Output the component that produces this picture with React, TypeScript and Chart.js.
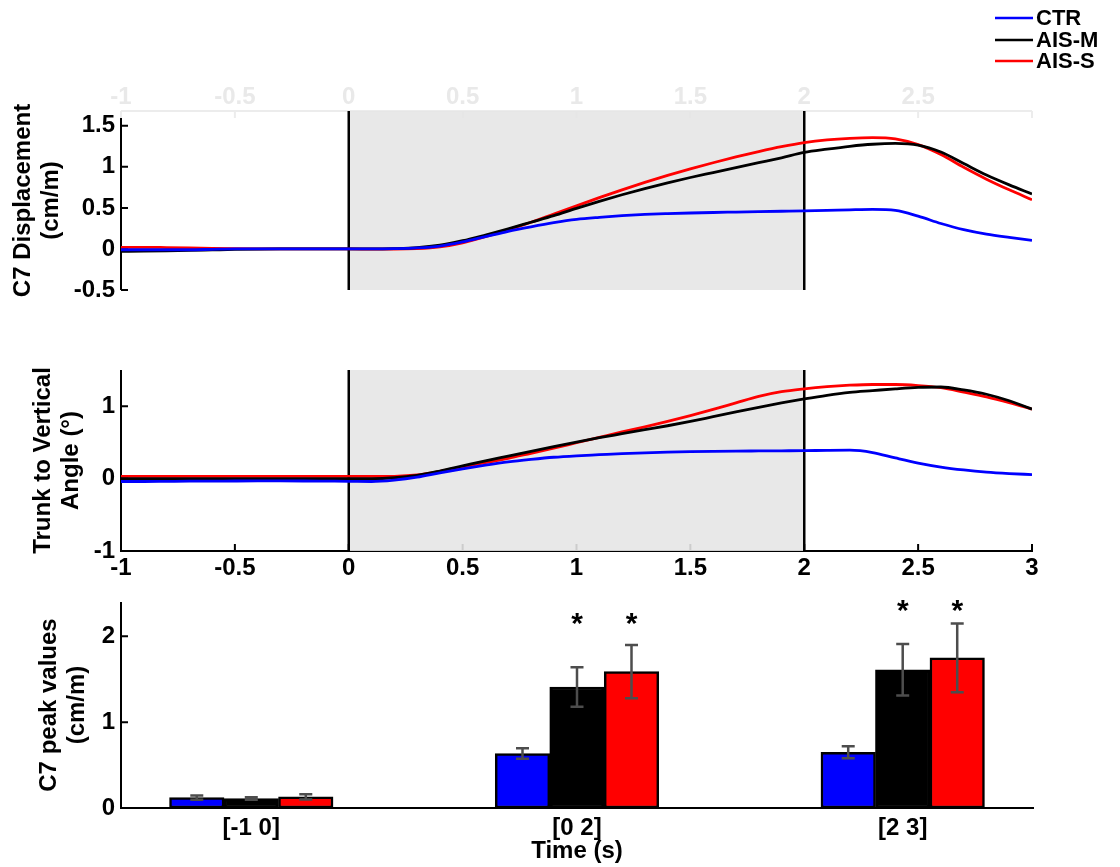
import React, { useEffect, useRef } from 'react';
import { Chart, registerables } from 'chart.js';

Chart.register(...registerables);

const FONT_FAMILY = "'Liberation Sans', Arial, Helvetica, sans-serif";
const font = (size: number, lineHeight = 1.2) => ({ family: FONT_FAMILY, size, weight: 'bold' as const, lineHeight });

// ---------- data ----------
const seriesNames = ['CTR', 'AIS-M', 'AIS-S'];
const seriesColors = ['#0000ff', '#000000', '#ff0000'];

const timeS = [-1.0, -0.9, -0.8, -0.7, -0.6, -0.5, -0.4, -0.3, -0.2, -0.1, 0.0, 0.1, 0.2, 0.3, 0.4, 0.5, 0.6, 0.7, 0.8, 0.9, 1.0,
  1.1, 1.2, 1.3, 1.4, 1.5, 1.6, 1.7, 1.8, 1.9, 2.0, 2.1, 2.2, 2.3, 2.4, 2.5, 2.6, 2.7, 2.8, 2.9, 3.0];

const dispCTR = [-0.01, -0.01, -0.01, -0.01, -0.005, 0, 0, 0, 0, 0, 0, 0, 0.003, 0.012, 0.035, 0.085, 0.15, 0.215, 0.27, 0.32, 0.36,
  0.385, 0.405, 0.42, 0.43, 0.438, 0.444, 0.449, 0.454, 0.459, 0.464, 0.47, 0.477, 0.482, 0.47, 0.40, 0.31, 0.235, 0.18, 0.14, 0.105];
const dispAISM = [-0.03, -0.027, -0.023, -0.018, -0.012, -0.006, -0.002, 0, 0, 0, 0, 0, 0.004, 0.015, 0.045, 0.10, 0.17, 0.245, 0.325, 0.405, 0.495,
  0.58, 0.66, 0.735, 0.805, 0.87, 0.93, 0.99, 1.05, 1.11, 1.175, 1.215, 1.25, 1.275, 1.285, 1.265, 1.18, 1.04, 0.90, 0.78, 0.67];
const dispAISS = [0.02, 0.02, 0.017, 0.013, 0.008, 0.004, 0.001, 0, 0, 0, 0, -0.002, -0.003, 0.003, 0.025, 0.075, 0.15, 0.235, 0.325, 0.425, 0.525,
  0.625, 0.72, 0.81, 0.895, 0.975, 1.05, 1.12, 1.185, 1.245, 1.295, 1.328, 1.347, 1.355, 1.34, 1.27, 1.15, 0.995, 0.85, 0.72, 0.60];

const angCTR = [-0.04, -0.04, -0.038, -0.036, -0.035, -0.033, -0.032, -0.032, -0.033, -0.035, -0.037, -0.04, -0.02, 0.02, 0.08, 0.135, 0.185, 0.23, 0.265, 0.295, 0.315,
  0.33, 0.345, 0.355, 0.365, 0.372, 0.377, 0.38, 0.382, 0.384, 0.386, 0.39, 0.392, 0.36, 0.285, 0.215, 0.16, 0.12, 0.09, 0.07, 0.055];
const angAISM = [0.0, 0.0, 0.0, 0.0, 0.0, 0.0, 0.0, 0.0, 0.0, 0.0, 0.0, 0.0, 0.012, 0.045, 0.105, 0.175, 0.245, 0.31, 0.375, 0.44, 0.505,
  0.565, 0.62, 0.675, 0.73, 0.79, 0.855, 0.92, 0.985, 1.045, 1.10, 1.15, 1.19, 1.215, 1.24, 1.26, 1.265, 1.225, 1.165, 1.075, 0.96];
const angAISS = [0.03, 0.03, 0.03, 0.03, 0.03, 0.03, 0.03, 0.03, 0.03, 0.03, 0.03, 0.03, 0.032, 0.05, 0.10, 0.16, 0.22, 0.28, 0.35, 0.42, 0.495,
  0.57, 0.645, 0.715, 0.79, 0.87, 0.955, 1.045, 1.135, 1.20, 1.24, 1.27, 1.29, 1.30, 1.30, 1.285, 1.255, 1.195, 1.13, 1.05, 0.96];

const taskWindow = [0, 2];
const timeTicks = [-1, -0.5, 0, 0.5, 1, 1.5, 2, 2.5, 3];
const dispTicks = [-0.5, 0, 0.5, 1, 1.5];
const angTicks = [-1, 0, 1];
const peakTicks = [0, 1, 2];

const windowLabels = ['[-1 0]', '[0 2]', '[2 3]'];
const windowPos = [1, 2, 3];
const peakCTR = [0.12, 0.635, 0.65];
const peakAISM = [0.11, 1.41, 1.61];
const peakAISS = [0.13, 1.59, 1.75];
const errCTR = [0.025, 0.06, 0.07];
const errAISM = [0.015, 0.23, 0.30];
const errAISS = [0.03, 0.31, 0.40];
const sigCTR = [false, false, false];
const sigAISM = [false, true, true];
const sigAISS = [false, true, true];
const starLevel = [0, 2.22, 2.37];

// ---------- plugins ----------
const decorPlugin = {
  id: 'figDecor',
  beforeDatasetsDraw(chart: any, _args: any, opts: any) {
    const ctx = chart.ctx;
    const a = chart.chartArea;
    const xs = chart.scales.x;
    const ys = chart.scales.y;
    const L = 7;
    ctx.save();
    for (const ax of opts.axes || []) {
      ctx.strokeStyle = ax.color;
      ctx.lineWidth = 2;
      ctx.beginPath();
      if (ax.side === 'left') { ctx.moveTo(a.left, a.top); ctx.lineTo(a.left, a.bottom); }
      if (ax.side === 'bottom') { ctx.moveTo(a.left - 1, a.bottom); ctx.lineTo(a.right + 1, a.bottom); }
      if (ax.side === 'top') { ctx.moveTo(a.left, a.top); ctx.lineTo(a.right, a.top); }
      ctx.stroke();
      ctx.beginPath();
      for (const v of ax.ticks) {
        if (ax.side === 'left') { const y = ys.getPixelForValue(v); ctx.moveTo(a.left, y); ctx.lineTo(a.left + L, y); }
        if (ax.side === 'bottom') { const x = xs.getPixelForValue(v); ctx.moveTo(x, a.bottom); ctx.lineTo(x, a.bottom - L); }
        if (ax.side === 'top') { const x = xs.getPixelForValue(v); ctx.moveTo(x, a.top); ctx.lineTo(x, a.top + L); }
      }
      ctx.stroke();
    }
    if (opts.shade) {
      const x0 = xs.getPixelForValue(opts.shade[0]);
      const x1 = xs.getPixelForValue(opts.shade[1]);
      ctx.fillStyle = 'rgba(229,229,229,0.89)';
      ctx.fillRect(x0, a.top, x1 - x0, a.bottom - a.top);
    }
    if (opts.vlines) {
      ctx.strokeStyle = '#000';
      ctx.lineWidth = 2.5;
      ctx.beginPath();
      for (const v of opts.vlines) {
        const x = xs.getPixelForValue(v);
        ctx.moveTo(x, a.top);
        ctx.lineTo(x, a.bottom);
      }
      ctx.stroke();
    }
    ctx.restore();
  },
};

const legendPlugin = {
  id: 'figLegend',
  afterDraw(chart: any, _args: any, opts: any) {
    const ctx = chart.ctx;
    ctx.save();
    ctx.fillStyle = '#ffffff';
    ctx.fillRect(opts.box[0], opts.box[1], opts.box[2], opts.box[3]);
    ctx.font = `bold 22px ${FONT_FAMILY}`;
    ctx.textBaseline = 'middle';
    ctx.textAlign = 'left';
    chart.data.datasets.forEach((ds: any, i: number) => {
      const y = opts.rows[i];
      ctx.strokeStyle = ds.borderColor;
      ctx.lineWidth = 2.5;
      ctx.beginPath();
      ctx.moveTo(opts.lineX0, y);
      ctx.lineTo(opts.lineX1, y);
      ctx.stroke();
      ctx.fillStyle = '#000';
      ctx.fillText(ds.label, opts.textX, y + 1);
    });
    ctx.restore();
  },
};

const errorBarPlugin = {
  id: 'errBars',
  afterDatasetsDraw(chart: any) {
    const ctx = chart.ctx;
    const ys = chart.scales.y;
    ctx.save();
    chart.data.datasets.forEach((ds: any, di: number) => {
      const meta = chart.getDatasetMeta(di);
      meta.data.forEach((bar: any, i: number) => {
        const v = ds.data[i].y;
        const e = ds.errors[i];
        const x = bar.x;
        const yt = ys.getPixelForValue(v + e);
        const yb = ys.getPixelForValue(v - e);
        ctx.strokeStyle = '#4d4d4d';
        ctx.lineWidth = 2.5;
        ctx.beginPath();
        ctx.moveTo(x, yt); ctx.lineTo(x, yb);
        ctx.moveTo(x - 6.5, yt); ctx.lineTo(x + 6.5, yt);
        ctx.moveTo(x - 6.5, yb); ctx.lineTo(x + 6.5, yb);
        ctx.stroke();
        if (ds.sig[i]) {
          ctx.fillStyle = '#000';
          ctx.font = `bold 30px ${FONT_FAMILY}`;
          ctx.textAlign = 'center';
          ctx.textBaseline = 'middle';
          ctx.fillText('*', x, ys.getPixelForValue(starLevel[i]) + 7);
        }
      });
    });
    ctx.restore();
  },
};

// ---------- helpers ----------
const lineDatasets = (arrs: number[][]) =>
  arrs.map((arr, k) => ({
    label: seriesNames[k],
    data: timeS.map((t, i) => ({ x: t, y: arr[i] })),
    borderColor: seriesColors[k],
    backgroundColor: seriesColors[k],
    borderWidth: 2.8,
    pointRadius: 0,
    fill: false,
    cubicInterpolationMode: 'monotone',
  }));

const setTicks = (vals: number[]) => (s: any) => { s.ticks = vals.map((v) => ({ value: v })); };
const noGrid = { display: false, drawTicks: false };

export default function App() {
  const refA = useRef<HTMLCanvasElement>(null);
  const refB = useRef<HTMLCanvasElement>(null);
  const refC = useRef<HTMLCanvasElement>(null);

  useEffect(() => {
    const charts: any[] = [];

    charts.push(new Chart(refA.current as any, {
      type: 'line',
      data: { datasets: lineDatasets([dispCTR, dispAISM, dispAISS]) as any },
      options: {
        animation: false, responsive: false, events: [],
        layout: { padding: { left: 0, top: 0, right: 88, bottom: 30 } },
        plugins: {
          legend: { display: false }, tooltip: { enabled: false },
          figDecor: {
            axes: [{ side: 'left', color: '#000', ticks: dispTicks }, { side: 'top', color: '#ececec', ticks: timeTicks }],
            shade: taskWindow, vlines: taskWindow,
          },
          figLegend: { box: [985, 0, 135, 106], rows: [18, 40, 61], lineX0: 995, lineX1: 1033, textX: 1036 },
        } as any,
        scales: {
          x: {
            type: 'linear', position: 'top', min: -1, max: 3, grid: noGrid, border: { display: false },
            afterBuildTicks: setTicks(timeTicks),
            ticks: { color: '#e9e9e9', font: font(24), padding: -1, maxRotation: 0, autoSkip: false, callback: (v: any) => String(v) },
            afterFit: (s: any) => { s.height = 111; },
          },
          y: {
            type: 'linear', min: -0.5, max: 1.68, grid: noGrid, border: { display: false },
            afterBuildTicks: setTicks(dispTicks),
            ticks: { color: '#000', font: font(24), padding: 6, autoSkip: false, callback: (v: any) => String(v) },
            title: { display: true, text: ['C7 Displacement', '(cm/m)'], color: '#000', font: font(24, 1.15), padding: { top: 10, bottom: 0 } },
            afterFit: (s: any) => { s.width = 121; },
          },
        } as any,
      },
      plugins: [decorPlugin, legendPlugin],
    } as any));

    charts.push(new Chart(refB.current as any, {
      type: 'line',
      data: { datasets: lineDatasets([angCTR, angAISM, angAISS]) as any },
      options: {
        animation: false, responsive: false, events: [],
        layout: { padding: { left: 0, top: 80, right: 88, bottom: 0 } },
        plugins: {
          legend: { display: false }, tooltip: { enabled: false },
          figDecor: {
            axes: [{ side: 'left', color: '#000', ticks: angTicks }, { side: 'bottom', color: '#000', ticks: timeTicks }],
            shade: taskWindow, vlines: taskWindow,
          },
        } as any,
        scales: {
          x: {
            type: 'linear', position: 'bottom', min: -1, max: 3, grid: noGrid, border: { display: false },
            afterBuildTicks: setTicks(timeTicks),
            ticks: { color: '#000', font: font(24), padding: 3, maxRotation: 0, autoSkip: false, callback: (v: any) => String(v) },
            afterFit: (s: any) => { s.height = 39; },
          },
          y: {
            type: 'linear', min: -1, max: 1.5, grid: noGrid, border: { display: false },
            afterBuildTicks: setTicks(angTicks),
            ticks: { color: '#000', font: font(24), padding: 6, autoSkip: false, callback: (v: any) => String(v) },
            title: { display: true, text: ['Trunk to Vertical', 'Angle (°)'], color: '#000', font: font(24, 1.15), padding: { top: 30, bottom: 0 } },
            afterFit: (s: any) => { s.width = 121; },
          },
        } as any,
      },
      plugins: [decorPlugin],
    } as any));

    const barSets = [
      { vals: peakCTR, errs: errCTR, sig: sigCTR },
      { vals: peakAISM, errs: errAISM, sig: sigAISM },
      { vals: peakAISS, errs: errAISS, sig: sigAISS },
    ];
    charts.push(new Chart(refC.current as any, {
      type: 'bar',
      data: {
        datasets: barSets.map((b, k) => ({
          label: seriesNames[k],
          data: windowPos.map((x, i) => ({ x, y: b.vals[i] })),
          backgroundColor: seriesColors[k],
          borderColor: '#000',
          borderWidth: 2.5,
          borderSkipped: false,
          barThickness: 54.5,
          errors: b.errs,
          sig: b.sig,
        })) as any,
      },
      options: {
        animation: false, responsive: false, events: [],
        layout: { padding: { left: 0, top: 22, right: 87, bottom: 0 } },
        plugins: {
          legend: { display: false }, tooltip: { enabled: false },
          figDecor: {
            axes: [{ side: 'left', color: '#000', ticks: peakTicks }, { side: 'bottom', color: '#000', ticks: [] }],
          },
        } as any,
        scales: {
          x: {
            type: 'linear', position: 'bottom', min: 0.6, max: 3.4, offset: false, grid: { ...noGrid, offset: false }, border: { display: false },
            afterBuildTicks: setTicks(windowPos),
            ticks: { color: '#000', font: font(24), padding: 6, maxRotation: 0, autoSkip: false, callback: (v: any) => windowLabels[windowPos.indexOf(v)] ?? '' },
            title: { display: true, text: 'Time (s)', color: '#000', font: font(24, 1.15), padding: { top: 0, bottom: 1.5 } },
            afterFit: (s: any) => { s.height = 59; },
          },
          y: {
            type: 'linear', min: 0, max: 2.4, grid: noGrid, border: { display: false },
            afterBuildTicks: setTicks(peakTicks),
            ticks: { color: '#000', font: font(24), padding: 6, autoSkip: false, callback: (v: any) => String(v) },
            title: { display: true, text: ['C7 peak values', '(cm/m)'], color: '#000', font: font(24, 1.15), padding: { top: 36, bottom: 0 } },
            afterFit: (s: any) => { s.width = 121; },
          },
        } as any,
      },
      plugins: [decorPlugin, errorBarPlugin],
    } as any));

    return () => charts.forEach((c) => c.destroy());
  }, []);

  return (
    <div style={{ position: 'absolute', left: 0, top: 0, width: 1120, height: 867, background: '#fff', overflow: 'hidden' }}>
      <canvas ref={refA} width={1120} height={320} style={{ position: 'absolute', left: 0, top: 0, width: 1120, height: 320 }} />
      <canvas ref={refB} width={1120} height={300} style={{ position: 'absolute', left: 0, top: 290, width: 1120, height: 300 }} />
      <canvas ref={refC} width={1120} height={287} style={{ position: 'absolute', left: 0, top: 580, width: 1120, height: 287 }} />
    </div>
  );
}
